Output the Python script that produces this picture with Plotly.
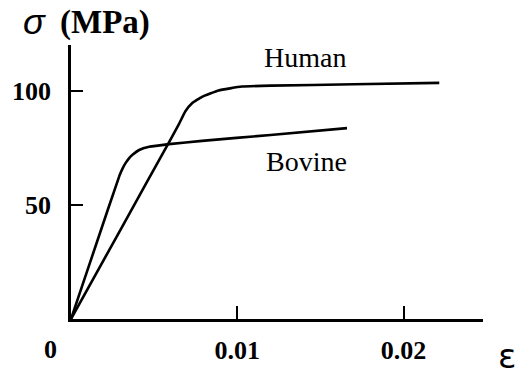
import plotly.graph_objects as go

# Data
strain_bovine = [0.0, 0.00150, 0.00291, 0.00312, 0.00330, 0.00350, 0.00370, 0.00410, 0.00470, 0.00589, 0.00788, 0.0120, 0.0166]
stress_bovine = [0.0, 32.4, 62.7, 66.2, 68.5, 70.5, 71.9, 74.0, 75.4, 76.6, 78.0, 80.6, 83.6]

strain_human = [0.0, 0.0030, 0.0060, 0.00650, 0.00688, 0.00728, 0.00788, 0.00888, 0.01027, 0.01206, 0.017, 0.02215]
stress_human = [0.0, 39.4, 78.8, 85.5, 91.0, 94.5, 97.3, 100.1, 101.8, 102.2, 102.8, 103.4]

x_ticks = [0.01, 0.02]
x_ticklabels = ["0.01", "0.02"]
y_ticks = [50, 100]
y_ticklabels = ["50", "100"]

serif = "Liberation Serif"
sans = "Liberation Sans"

fig = go.Figure()
line_style = dict(color="black", width=2.6, shape="spline", smoothing=0.35)
fig.add_trace(go.Scatter(x=strain_bovine, y=stress_bovine, mode="lines", line=line_style,
                         name="Bovine", showlegend=False, hoverinfo="skip"))
fig.add_trace(go.Scatter(x=strain_human, y=stress_human, mode="lines", line=line_style,
                         name="Human", showlegend=False, hoverinfo="skip"))

fig.update_layout(
    width=525, height=377,
    margin=dict(l=68, r=42, t=45, b=49, pad=0),
    paper_bgcolor="white", plot_bgcolor="white",
    xaxis=dict(range=[0, 0.02478], showgrid=False, zeroline=False,
               showline=True, linecolor="black", linewidth=2.5,
               ticks="inside", ticklen=13, tickwidth=2, tickcolor="black",
               tickvals=x_ticks, ticktext=x_ticklabels,
               tickfont=dict(family=serif, size=26, color="black", weight="bold"),
               ticklabelstandoff=6),
    yaxis=dict(range=[0, 120], showgrid=False, zeroline=False,
               showline=True, linecolor="black", linewidth=2.5,
               ticks="inside", ticklen=12, tickwidth=2, tickcolor="black",
               tickvals=y_ticks, ticktext=y_ticklabels,
               tickfont=dict(family=serif, size=26, color="black", weight="bold"),
               ticklabelstandoff=12),
)

annotations = [
    dict(x=0.01409, y=114.4, xref="x", yref="y", text="Human", showarrow=False,
         font=dict(family=serif, size=28, color="black"), xanchor="center", yanchor="middle"),
    dict(x=0.01415, y=68.8, xref="x", yref="y", text="Bovine", showarrow=False,
         font=dict(family=serif, size=28, color="black"), xanchor="center", yanchor="middle"),
    dict(x=0, y=0, xref="x", yref="y", text="0", showarrow=False,
         font=dict(family=serif, size=26, color="black", weight="bold"),
         xanchor="center", yanchor="middle", xshift=-21, yshift=-30),
    dict(x=0, y=1, xref="paper", yref="paper", text="<i>σ</i>", showarrow=False,
         font=dict(family=sans, size=36, color="black"),
         xanchor="center", yanchor="middle", xshift=-37, yshift=24),
    dict(x=0, y=1, xref="paper", yref="paper", text="(MPa)", showarrow=False,
         font=dict(family=serif, size=33, color="black", weight="bold"),
         xanchor="center", yanchor="middle", xshift=34, yshift=23),
    dict(x=1, y=0, xref="paper", yref="paper", text="ε", showarrow=False,
         font=dict(family="DejaVu Sans", size=34, color="black"),
         xanchor="center", yanchor="bottom", xshift=24, yshift=-59),
]
fig.update_layout(annotations=annotations)

fig.write_html("out.html")
